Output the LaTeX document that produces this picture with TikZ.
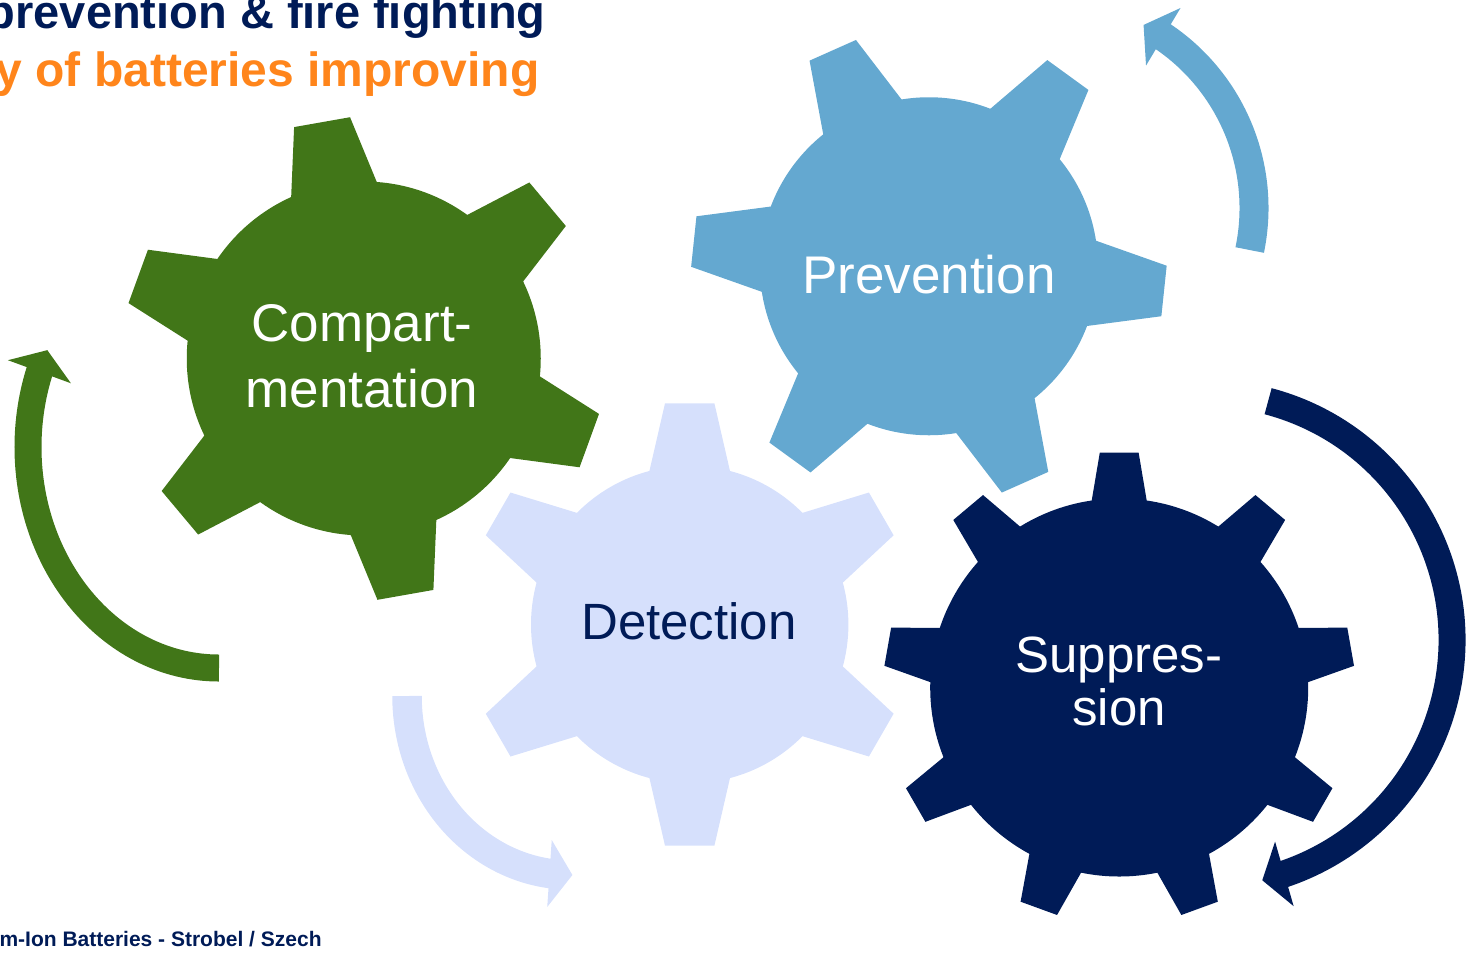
\documentclass[tikz,border=0pt]{standalone}
\usepackage{fontspec}
\setmainfont{Liberation Sans}
\usetikzlibrary{arrows.meta,bending}

\definecolor{gearGreen}{RGB}{65,118,24}
\definecolor{gearBlue}{RGB}{100,168,208}
\definecolor{gearPale}{RGB}{214,224,252}
\definecolor{gearNavy}{RGB}{0,27,87}
\definecolor{titleOrange}{RGB}{255,133,27}

\tikzset{
  cycleArrow/.style={draw=#1, line width=14pt, -{Triangle[length=11.5pt,width=33pt]}},
  gearText/.style={text=white, font=\fontsize{26.5}{33}\selectfont, align=center, inner sep=0pt},
  titleText/.style={anchor=base east, inner sep=0pt, font=\bfseries\fontsize{23.5}{28}\selectfont},
}

\begin{document}
\begin{tikzpicture}[x=0.5pt,y=0.5pt]
    \useasboundingbox (0,0) rectangle (1466,-955);
    \clip (0,0) rectangle (1466,-955);

    % gears
    \coordinate (cComp) at (363.75,-358.5);
    \coordinate (cPrev) at (928.9,-266.25);
    \coordinate (cDet) at (689.7,-624.5);
    \coordinate (cSupp) at (1119.2,-687.5);

    \fill[gearGreen] (cComp) circle[radius=177];
    \foreach \a in {100,40,...,-200}
        \fill[gearGreen, shift={(cComp)}, rotate=\a] (150,-48.2) -- (240,-28.4) -- (240,28.4) -- (150,48.2) -- cycle;

    \fill[gearBlue] (cPrev) circle[radius=169];
    \foreach \a in {114,54,...,-186}
        \fill[gearBlue, shift={(cPrev)}, rotate=\a] (140,-48.5) -- (236.4,-25.4) -- (236.4,25.4) -- (140,48.5) -- cycle;

    \fill[gearPale] (cDet) circle[radius=158.7];
    \foreach \a in {90,30,...,-210}
        \fill[gearPale, shift={(cDet)}, rotate=\a] (130,-45.7) -- (221.2,-24.7) -- (221.2,24.7) -- (130,45.7) -- cycle;

    \fill[gearNavy] (cSupp) circle[radius=189];
    \foreach \a in {90,50,...,-230}
        \fill[gearNavy, shift={(cSupp)}, rotate=\a] (165,-31.2) -- (235,-19.4) -- (235,19.4) -- (165,31.2) -- cycle;

    \node[gearText] (compart) at (362,-356) {Compart-\\mentation};
    \node[gearText] (prevent) at (929,-275) {Prevention};
    \node[gearText, text=gearNavy, font=\fontsize{25.5}{33}\selectfont] (detect) at (689,-621.7) {Detection};
    \node[gearText, font=\fontsize{25.5}{26.5}\selectfont] (suppress) at (1119,-681) {Suppres-\\sion};

    % cycle arrows
    \coordinate (gTail) at (219,-668);
    \coordinate (pTail) at (1249.7,-250);
    \coordinate (nTail) at (1268.1,-401.2);
    \coordinate (dTail) at (407,-696);

    \draw[cycleArrow=gearGreen, line width=13.5pt] (gTail) arc[start angle=-90, end angle=-206, x radius=191, y radius=221];
    \draw[cycleArrow=gearBlue, line width=14.5pt] (pTail) arc[start angle=-11.7, end angle=62.2, radius=207];
    \draw[cycleArrow=gearNavy, line width=13.5pt] (nTail) arc[start angle=75.2, end angle=-76.6, radius=247];
    \draw[cycleArrow=gearPale, line width=14.75pt] (dTail) arc[start angle=180, end angle=270.5, x radius=164, y radius=179];

    % titles and footer
    \node[titleText, text=gearNavy] (title1) at (546,-28) {prevention \& fire fighting};
    \node[titleText, text=titleOrange, font=\bfseries\fontsize{24}{28}\selectfont] (title2) at (540,-86) {y of batteries improving};
    \node[anchor=base east, inner sep=0pt, text=gearNavy, font=\bfseries\fontsize{10.5}{12}\selectfont] (footer) at (322,-946.7) {m-Ion Batteries - Strobel / Szech};
\end{tikzpicture}
\end{document}
